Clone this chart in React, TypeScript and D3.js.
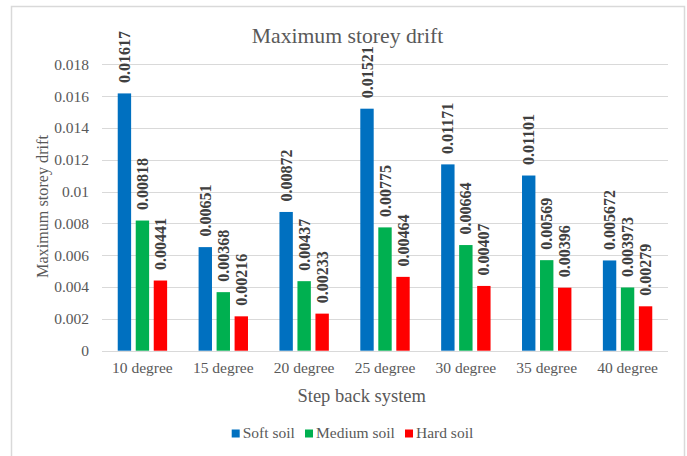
import React from "react";
import * as d3 from "d3";

const categories = ["10 degree", "15 degree", "20 degree", "25 degree", "30 degree", "35 degree", "40 degree"];
const seriesNames = ["Soft soil", "Medium soil", "Hard soil"];
const softSoil = [0.01617, 0.00651, 0.00872, 0.01521, 0.01171, 0.01101, 0.005672];
const mediumSoil = [0.00818, 0.00368, 0.00437, 0.00775, 0.00664, 0.00569, 0.003973];
const hardSoil = [0.00441, 0.00216, 0.00233, 0.00464, 0.00407, 0.00396, 0.00279];
const seriesColors = ["#0070C0", "#00B050", "#FF0000"];
const yTicks = [0, 0.002, 0.004, 0.006, 0.008, 0.01, 0.012, 0.014, 0.016, 0.018];

const seriesValues = [softSoil, mediumSoil, hardSoil];

const W = 687;
const H = 456;
const serif = "Liberation Serif";

export default function App() {
  const x = d3.scaleBand<string>().domain(categories).range([102, 668]).paddingInner(0).paddingOuter(0);
  const y = d3.scaleLinear().domain([0, 0.018]).range([350.7, 64.3]);
  const groupW = 49.4;
  const inner = d3
    .scaleBand<string>()
    .domain(seriesNames)
    .range([0, groupW])
    .paddingInner(0.256)
    .paddingOuter(0);

  const fmtLabel = (v: number) => String(v);
  const fmtTick = (v: number) => (v === 0 ? "0" : String(+v.toFixed(3)));

  const legendX = [231.7, 305, 405];
  const txt = { fontFamily: serif } as React.CSSProperties;

  return (
    <svg
      width={W}
      height={H}
      style={{ position: "absolute", left: 0, top: 0, background: "#fff", fontFamily: serif }}
    >
      <rect x={0} y={0} width={W} height={H} fill="#fff" />
      <rect x={11.5} y={6.5} width={673} height={470} fill="none" stroke="#d9d9d9" strokeWidth={1.5} />

      {/* gridlines */}
      {yTicks.map((t) => (
        <line
          key={"g" + t}
          x1={102}
          x2={668}
          y1={Math.round(y(t)) + 0.5}
          y2={Math.round(y(t)) + 0.5}
          stroke="#d9d9d9"
          strokeWidth={1}
        />
      ))}

      {/* y tick labels */}
      {yTicks.map((t) => (
        <text
          key={"t" + t}
          x={89}
          y={y(t)}
          dy="0.35em"
          textAnchor="end"
          fontSize={15.5}
          fill="#595959"
          style={txt}
        >
          {fmtTick(t)}
        </text>
      ))}

      {/* bars and value labels */}
      {categories.map((c, ci) => {
        const gx = (x(c) as number) + x.bandwidth() / 2 - groupW / 2;
        return (
          <g key={c}>
            {seriesNames.map((s, si) => {
              const v = seriesValues[si][ci];
              const bx = gx + (inner(s) as number);
              const bw = inner.bandwidth();
              const top = y(v);
              const cx = bx + bw / 2;
              const ly = top - 10.5;
              return (
                <g key={s}>
                  <rect x={bx} y={top} width={bw} height={y(0) - top} fill={seriesColors[si]} />
                  <text
                    x={cx}
                    y={ly}
                    transform={`rotate(-90 ${cx} ${ly})`}
                    dy="0.35em"
                    textAnchor="start"
                    fontSize={16}
                    fontWeight="bold"
                    fill="#404040"
                    style={txt}
                  >
                    {fmtLabel(v)}
                  </text>
                </g>
              );
            })}
          </g>
        );
      })}

      {/* x tick labels */}
      {categories.map((c) => (
        <text
          key={"x" + c}
          x={(x(c) as number) + x.bandwidth() / 2}
          y={373.3}
          textAnchor="middle"
          fontSize={15.5}
          fill="#595959"
          style={txt}
        >
          {c}
        </text>
      ))}

      {/* title */}
      <text x={347.5} y={43.3} textAnchor="middle" fontSize={21.7} fill="#595959" style={txt}>
        Maximum storey drift
      </text>

      {/* axis titles */}
      <text x={361.7} y={402} textAnchor="middle" fontSize={18.5} fill="#595959" style={txt}>
        Step back system
      </text>
      <text
        x={48}
        y={206.5}
        transform="rotate(-90 48 206.5)"
        textAnchor="middle"
        fontSize={16.2}
        fill="#595959"
        style={txt}
      >
        Maximum storey drift
      </text>

      {/* legend */}
      {seriesNames.map((s, i) => (
        <g key={"l" + s}>
          <rect x={legendX[i]} y={429.5} width={8} height={8} fill={seriesColors[i]} />
          <text x={legendX[i] + 11} y={437.5} fontSize={15.5} fill="#595959" style={txt}>
            {s}
          </text>
        </g>
      ))}
    </svg>
  );
}
